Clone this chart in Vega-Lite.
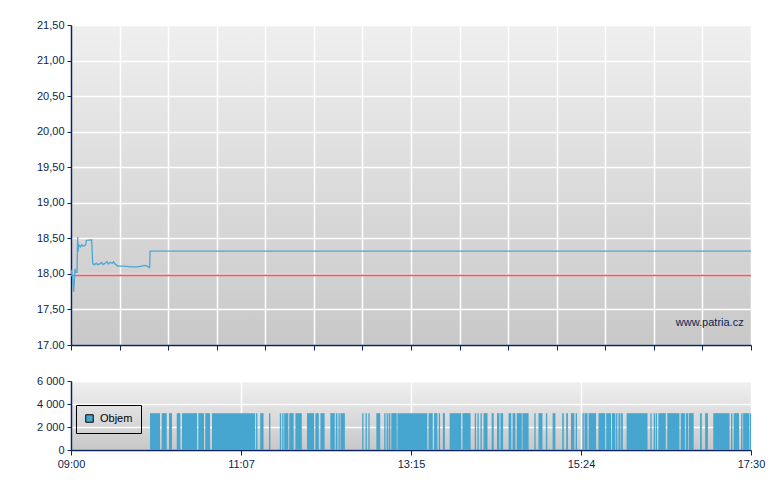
{
  "$schema": "https://vega.github.io/schema/vega-lite/v6.json",
  "background": "white",
  "padding": {"left": 36, "top": 19, "right": 10, "bottom": 5},
  "bounds": "flush",
  "spacing": 36,
  "resolve": {"legend": {"color": "independent"}},
  "config": {
    "font": "Liberation Sans",
    "axis": {
      "labelFont": "Liberation Sans",
      "labelFontSize": 11,
      "labelColor": "#0b1f4f",
      "labelOverlap": false,
      "labelFlush": false,
      "domainColor": "#0b2260",
      "domainWidth": 1.5,
      "tickColor": "#0b2260",
      "tickSize": 4,
      "labelPadding": 3,
      "gridColor": "#ffffff",
      "gridWidth": 1.5,
      "gridOpacity": 1,
      "title": null
    }
  },
  "datasets": {
    "price": [
      {"t": 0, "p": 18.06},
      {"t": 1.2, "p": 17.95},
      {"t": 2, "p": 17.75},
      {"t": 3, "p": 18.07},
      {"t": 3.5, "p": 18.02},
      {"t": 4.5, "p": 18.02},
      {"t": 5, "p": 18.52},
      {"t": 5.3, "p": 18.31},
      {"t": 5.8, "p": 18.41},
      {"t": 7, "p": 18.38},
      {"t": 8, "p": 18.41},
      {"t": 9, "p": 18.39},
      {"t": 10.5, "p": 18.4},
      {"t": 11, "p": 18.41},
      {"t": 11.5, "p": 18.47},
      {"t": 15.5, "p": 18.48},
      {"t": 16.3, "p": 18.14},
      {"t": 17.5, "p": 18.13},
      {"t": 19, "p": 18.15},
      {"t": 20, "p": 18.13},
      {"t": 21.5, "p": 18.14},
      {"t": 23, "p": 18.16},
      {"t": 24, "p": 18.13},
      {"t": 25.5, "p": 18.15},
      {"t": 27, "p": 18.17},
      {"t": 28, "p": 18.14},
      {"t": 29.5, "p": 18.16},
      {"t": 31, "p": 18.15},
      {"t": 32, "p": 18.17},
      {"t": 33, "p": 18.14},
      {"t": 34.5, "p": 18.12},
      {"t": 35, "p": 18.11},
      {"t": 40, "p": 18.11},
      {"t": 45, "p": 18.1},
      {"t": 50, "p": 18.1},
      {"t": 53, "p": 18.11},
      {"t": 55, "p": 18.12},
      {"t": 57, "p": 18.11},
      {"t": 58.5, "p": 18.09},
      {"t": 59, "p": 18.09},
      {"t": 59.3, "p": 18.32},
      {"t": 510, "p": 18.32}
    ],
    "ref": [
      {"t": 0, "p": 17.98},
      {"t": 510, "p": 17.98}
    ],
    "vol": [
      {"t0": 59.25, "t1": 66.75, "v": 3200}, {"t0": 68, "t1": 71.8, "v": 3200}, {"t0": 73.5, "t1": 75.75, "v": 3200},
      {"t0": 79.3, "t1": 82, "v": 3200}, {"t0": 83.25, "t1": 94.5, "v": 3200}, {"t0": 95.5, "t1": 99.75, "v": 3200},
      {"t0": 100.7, "t1": 104.25, "v": 3200}, {"t0": 105.75, "t1": 138.05, "v": 3200}, {"t0": 138.8, "t1": 139.8, "v": 3200},
      {"t0": 141.9, "t1": 144.4, "v": 3200}, {"t0": 148.5, "t1": 149.5, "v": 3200}, {"t0": 156.6, "t1": 157.6, "v": 3200},
      {"t0": 158.4, "t1": 159.4, "v": 3200}, {"t0": 159.9, "t1": 163, "v": 3200}, {"t0": 163.7, "t1": 167, "v": 3200},
      {"t0": 168.3, "t1": 173.1, "v": 3200}, {"t0": 177, "t1": 182.3, "v": 3200}, {"t0": 183.3, "t1": 185.8, "v": 3200},
      {"t0": 187.1, "t1": 190.2, "v": 3200}, {"t0": 194.5, "t1": 197.8, "v": 3200}, {"t0": 198.6, "t1": 199.8, "v": 3200},
      {"t0": 200.6, "t1": 201.6, "v": 3200}, {"t0": 202.1, "t1": 205.4, "v": 3200}, {"t0": 218.4, "t1": 219.4, "v": 3200},
      {"t0": 220.9, "t1": 221.9, "v": 3200}, {"t0": 223, "t1": 224, "v": 3200}, {"t0": 229, "t1": 231.9, "v": 3200},
      {"t0": 234.9, "t1": 235.9, "v": 3200}, {"t0": 236.7, "t1": 237.7, "v": 3200}, {"t0": 238.2, "t1": 239.5, "v": 3200},
      {"t0": 240.2, "t1": 244.3, "v": 3200}, {"t0": 244.8, "t1": 267.2, "v": 3200}, {"t0": 268.2, "t1": 271.3, "v": 3200},
      {"t0": 272.3, "t1": 274.8, "v": 3200}, {"t0": 275.8, "t1": 276.8, "v": 3200}, {"t0": 278.9, "t1": 280.4, "v": 3200},
      {"t0": 284, "t1": 292.6, "v": 3200}, {"t0": 293.6, "t1": 299.7, "v": 3200}, {"t0": 302.8, "t1": 303.8, "v": 3200},
      {"t0": 304.8, "t1": 305.8, "v": 3200}, {"t0": 307.1, "t1": 308.1, "v": 3200}, {"t0": 309.4, "t1": 312.4, "v": 3200},
      {"t0": 315.5, "t1": 317, "v": 3200}, {"t0": 319.5, "t1": 321.3, "v": 3200}, {"t0": 322.1, "t1": 324.1, "v": 3200},
      {"t0": 328.2, "t1": 330.2, "v": 3200}, {"t0": 331.2, "t1": 333.3, "v": 3200}, {"t0": 334.3, "t1": 338.1, "v": 3200},
      {"t0": 338.6, "t1": 343.2, "v": 3200}, {"t0": 347.5, "t1": 348.5, "v": 3200}, {"t0": 350.6, "t1": 353.6, "v": 3200},
      {"t0": 356.2, "t1": 357.2, "v": 3200}, {"t0": 361.2, "t1": 363.3, "v": 3200}, {"t0": 368.4, "t1": 369.6, "v": 3200},
      {"t0": 371.4, "t1": 372.7, "v": 3200}, {"t0": 375, "t1": 377.5, "v": 3200}, {"t0": 378.5, "t1": 379.5, "v": 3200},
      {"t0": 383.6, "t1": 384.6, "v": 3200}, {"t0": 385.1, "t1": 387.4, "v": 3200}, {"t0": 388.2, "t1": 393.8, "v": 3200},
      {"t0": 395.6, "t1": 400.6, "v": 3200}, {"t0": 401.4, "t1": 405, "v": 3200}, {"t0": 405.7, "t1": 408.3, "v": 3200},
      {"t0": 408.8, "t1": 409.8, "v": 3200}, {"t0": 410.6, "t1": 412.1, "v": 3200}, {"t0": 412.6, "t1": 413.9, "v": 3200},
      {"t0": 416.7, "t1": 432.4, "v": 3200}, {"t0": 434.5, "t1": 435.5, "v": 3200}, {"t0": 437, "t1": 438, "v": 3200},
      {"t0": 438.5, "t1": 439.5, "v": 3200}, {"t0": 440.5, "t1": 446.1, "v": 3200}, {"t0": 447.2, "t1": 456.3, "v": 3200},
      {"t0": 457.3, "t1": 460.4, "v": 3200}, {"t0": 461.1, "t1": 462.9, "v": 3200}, {"t0": 463.4, "t1": 467, "v": 3200},
      {"t0": 471.8, "t1": 473.1, "v": 3200}, {"t0": 475.6, "t1": 477.7, "v": 3200}, {"t0": 481.7, "t1": 493.9, "v": 3200},
      {"t0": 495, "t1": 496, "v": 3200}, {"t0": 497, "t1": 501, "v": 3200}, {"t0": 502.6, "t1": 503.6, "v": 3200},
      {"t0": 504.1, "t1": 508.7, "v": 3200}, {"t0": 509.2, "t1": 510, "v": 3200}
    ]
  },
  "vconcat": [
    {
      "width": 680,
      "height": 320,
      "view": {
        "stroke": null,
        "fill": {"gradient": "linear", "x1": 0, "y1": 0, "x2": 0, "y2": 1,
          "stops": [{"offset": 0, "color": "#efefef"}, {"offset": 1, "color": "#c8c8c8"}]}
      },
      "layer": [
        {
          "encoding": {
            "x": {"field": "t", "type": "quantitative", "scale": {"domain": [0, 510], "nice": false, "zero": false},
              "axis": {"labels": false, "grid": true, "tickSize": 5,
                "values": [0, 36.43, 72.86, 109.29, 145.71, 182.14, 218.57, 255, 291.43, 327.86, 364.29, 400.71, 437.14, 473.57, 510]}},
            "y": {"field": "p", "type": "quantitative", "scale": {"domain": [17, 21.5], "nice": false, "zero": false},
              "axis": {"values": [17, 17.5, 18, 18.5, 19, 19.5, 20, 20.5, 21, 21.5], "tickCount": 10,
                "labelExpr": "datum.value == 17 ? '17.00' : replace(format(datum.value, '.2f'), '.', ',')"}}
          },
          "layer": [
            {
              "data": {"name": "ref"},
              "mark": {"type": "line", "color": "#e05a5a", "strokeWidth": 1.8, "opacity": 0.9}
            },
            {
              "data": {"name": "price"},
              "mark": {"type": "line", "color": "#4ca6d6", "strokeWidth": 1.3}
            }
          ]
        },
        {
          "data": {"values": [{"label": "www.patria.cz"}]},
          "mark": {"type": "text", "align": "right", "baseline": "middle", "fontSize": 11, "color": "#0b1f4f", "font": "Liberation Sans"},
          "encoding": {
            "x": {"datum": 504.5, "type": "quantitative",
              "axis": {"labels": false, "grid": true, "tickSize": 5,
                "values": [0, 36.43, 72.86, 109.29, 145.71, 182.14, 218.57, 255, 291.43, 327.86, 364.29, 400.71, 437.14, 473.57, 510]}},
            "y": {"datum": 17.31, "type": "quantitative",
              "axis": {"values": [17, 17.5, 18, 18.5, 19, 19.5, 20, 20.5, 21, 21.5], "tickCount": 10,
                "labelExpr": "datum.value == 17 ? '17.00' : replace(format(datum.value, '.2f'), '.', ',')"}},
            "text": {"field": "label"}
          }
        }
      ]
    },
    {
      "width": 680,
      "height": 69,
      "view": {
        "stroke": null,
        "fill": {"gradient": "linear", "x1": 0, "y1": 0, "x2": 0, "y2": 1,
          "stops": [{"offset": 0, "color": "#f0f0f0"}, {"offset": 1, "color": "#c8c8c8"}]}
      },
      "data": {"name": "vol"},
      "mark": {"type": "rect"},
      "encoding": {
        "x": {"field": "t0", "type": "quantitative", "scale": {"domain": [0, 510], "nice": false, "zero": false},
          "axis": {"values": [0, 127.5, 255, 382.5, 510], "grid": true, "tickSize": 5,
            "labelExpr": "datum.value == 0 ? '09:00' : datum.value == 127.5 ? '11:07' : datum.value == 255 ? '13:15' : datum.value == 382.5 ? '15:24' : '17:30'"}},
        "x2": {"field": "t1"},
        "y": {"field": "v", "type": "quantitative", "scale": {"domain": [0, 6000], "nice": false},
          "axis": {"values": [0, 2000, 4000, 6000], "labelExpr": "replace(format(datum.value, ',d'), ',', ' ')"}},
        "y2": {"datum": 0},
        "color": {"datum": "Objem", "type": "nominal", "scale": {"range": ["#46a6cf"]},
          "legend": {"orient": "none", "legendX": 5, "legendY": 24, "title": null,
            "strokeColor": "#000000", "padding": 8, "symbolType": "square", "symbolSize": 56,
            "symbolStrokeColor": "#000000", "symbolStrokeWidth": 1, "labelFontSize": 11,
            "labelFont": "Liberation Sans", "labelColor": "#000000", "labelOffset": 5, "cornerRadius": 0}}
      }
    }
  ]
}
